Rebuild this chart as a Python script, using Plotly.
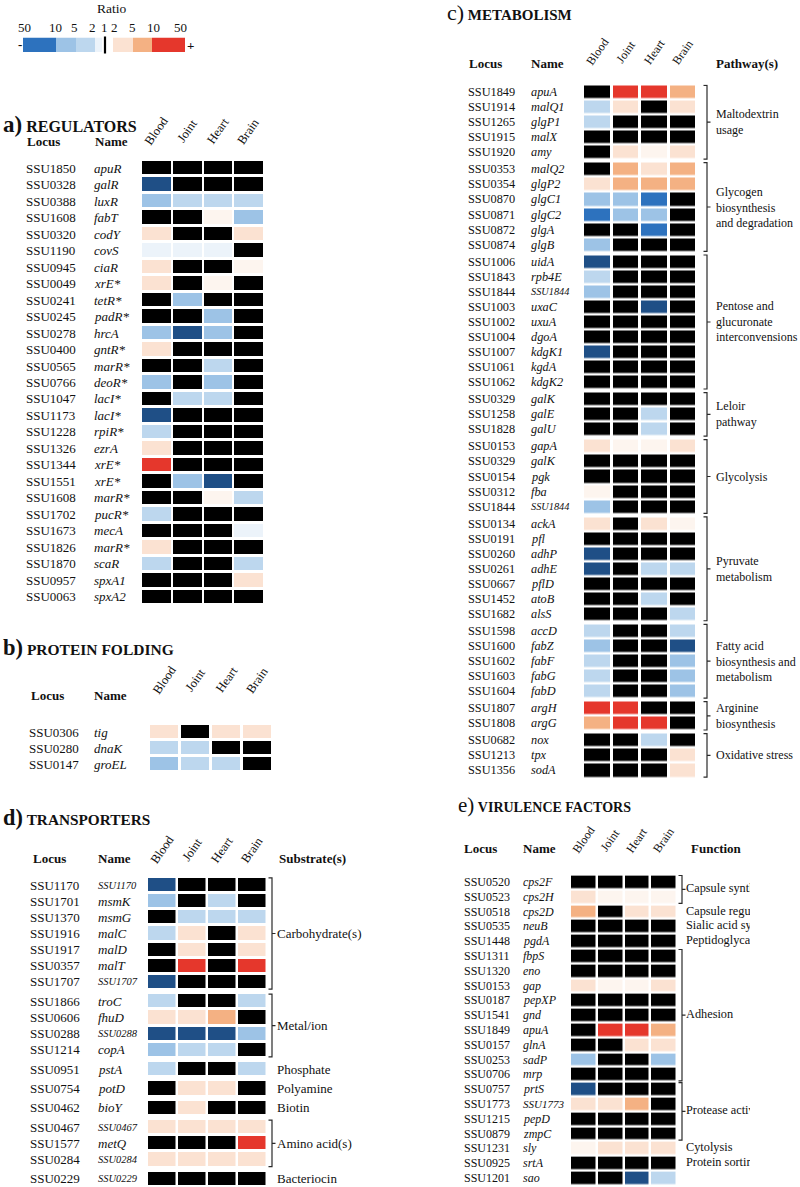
import plotly.graph_objects as go

W, H = 800, 1187
SERIF = "Liberation Serif, Times New Roman, serif"
COLUMNS = ["Blood", "Joint", "Heart", "Brain"]

# ratio classes: -5 strong down ... 0 not significant (black) ... 4 strong up
LEVELS = [-5, -4, -3, -2, -1, 0, 1, 2, 3, 4]
LEVEL_COLORS = ["#1f4f86", "#2d72be", "#9dc3e6", "#bdd7ee", "#ecf3fa",
                "#000000", "#fdf5ef", "#fbe2d2", "#f4b183", "#e5372c"]

LEGEND_LEVELS = [-4, -3, -2, -1, None, 2, 3, 4]
LEGEND_TICKS = ["50", "10", "5", "2", "1", "2", "5", "10", "50"]

# ---------------- a) REGULATORS ----------------
A_LOCUS = ["SSU1850", "SSU0328", "SSU0388", "SSU1608", "SSU0320", "SSU1190", "SSU0945", "SSU0049",
           "SSU0241", "SSU0245", "SSU0278", "SSU0400", "SSU0565", "SSU0766", "SSU1047", "SSU1173",
           "SSU1228", "SSU1326", "SSU1344", "SSU1551", "SSU1608", "SSU1702", "SSU1673", "SSU1826",
           "SSU1870", "SSU0957", "SSU0063"]
A_NAME = ["apuR", "galR", "luxR", "fabT", "codY", "covS", "ciaR", "xrE*", "tetR*", "padR*", "hrcA",
          "gntR*", "marR*", "deoR*", "lacI*", "lacI*", "rpiR*", "ezrA", "xrE*", "xrE*", "marR*",
          "pucR*", "mecA", "marR*", "scaR", "spxA1", "spxA2"]
A_VALUES = [
    [0, 0, 0, 0], [-5, 0, 0, 0], [-3, -2, -2, -2], [0, 0, 1, -3], [2, 0, 0, 2],
    [-1, -1, -1, 0], [2, 0, 0, 1], [2, 0, 1, 0], [0, -3, 0, 0], [0, 0, -3, 0],
    [-3, -5, -3, 0], [2, 0, 0, 0], [0, 0, -2, 0], [-3, 0, -3, 0], [0, -2, -2, 0],
    [-5, 0, 0, 0], [-2, 0, 0, 0], [2, 0, 0, 0], [4, 0, 0, 0], [0, -3, -5, 0],
    [0, 0, 1, -2], [-2, 0, 0, 0], [0, 0, 0, -1], [2, 0, 0, 0], [-2, 0, 0, -2],
    [0, 0, 0, 2], [0, 0, 0, 0]]

# ---------------- b) PROTEIN FOLDING ----------------
B_LOCUS = ["SSU0306", "SSU0280", "SSU0147"]
B_NAME = ["tig", "dnaK", "groEL"]
B_VALUES = [[2, 0, 2, 2], [-2, -2, 0, 0], [-3, -2, -2, 0]]

# ---------------- c) METABOLISM ----------------
C_LOCUS = ["SSU1849", "SSU1914", "SSU1265", "SSU1915", "SSU1920", "SSU0353", "SSU0354", "SSU0870",
           "SSU0871", "SSU0872", "SSU0874", "SSU1006", "SSU1843", "SSU1844", "SSU1003", "SSU1002",
           "SSU1004", "SSU1007", "SSU1061", "SSU1062", "SSU0329", "SSU1258", "SSU1828", "SSU0153",
           "SSU0329", "SSU0154", "SSU0312", "SSU1844", "SSU0134", "SSU0191", "SSU0260", "SSU0261",
           "SSU0667", "SSU1452", "SSU1682", "SSU1598", "SSU1600", "SSU1602", "SSU1603", "SSU1604",
           "SSU1807", "SSU1808", "SSU0682", "SSU1213", "SSU1356"]
C_NAME = ["apuA", "malQ1", "glgP1", "malX", "amy", "malQ2", "glgP2", "glgC1", "glgC2", "glgA", "glgB",
          "uidA", "rpb4E", "SSU1844", "uxaC", "uxuA", "dgoA", "kdgK1", "kgdA", "kdgK2", "galK", "galE",
          "galU", "gapA", "galK", "pgk", "fba", "SSU1844", "ackA", "pfl", "adhP", "adhE", "pflD", "atoB",
          "alsS", "accD", "fabZ", "fabF", "fabG", "fabD", "argH", "argG", "nox", "tpx", "sodA"]
C_VALUES = [
    [0, 4, 4, 3], [-2, 2, 0, 2], [-2, 0, 0, 0], [0, 0, 0, 0], [0, 2, 1, 2],
    [0, 3, 2, 3], [2, 3, 3, 3], [-3, -3, -4, 0], [-4, -3, -3, 0], [0, 0, -4, 0], [-3, 0, 0, 0],
    [-5, 0, 0, 0], [-2, 0, 0, 0], [-3, 0, 0, 0], [0, 0, -5, 0], [0, 0, 0, 0], [0, 0, 0, 0],
    [-5, 0, 0, 0], [0, 0, 0, 0], [0, 0, 0, 0],
    [0, 0, 0, 0], [0, 0, -2, 0], [0, 0, -2, 0],
    [2, 1, 1, 2], [0, 0, 0, 0], [0, 0, 0, 0], [1, 0, 0, 0], [-3, 0, 0, 0],
    [2, 0, 2, 1], [0, 0, 0, 0], [-5, 0, 0, 0], [-5, 0, -2, -2], [0, 0, 0, 0], [0, 0, -2, 0], [0, 0, 0, -2],
    [-2, 0, 0, -2], [-3, 0, 0, -5], [-2, 0, 0, -3], [-2, 0, 0, -3], [-2, 0, 0, -3],
    [4, 4, 0, 0], [3, 4, 4, 0],
    [0, 0, -2, 0], [0, 0, 0, 2], [0, 0, 0, 2]]
C_GROUP = [0, 0, 0, 0, 0, 1, 1, 1, 1, 1, 1, 2, 2, 2, 2, 2, 2, 2, 2, 2, 3, 3, 3, 4, 4, 4, 4, 4,
           5, 5, 5, 5, 5, 5, 5, 6, 6, 6, 6, 6, 7, 7, 8, 8, 8]
C_GROUP_LABELS = ["Maltodextrin<br>usage", "Glycogen<br>biosynthesis<br>and degradation",
                  "Pentose and<br>glucuronate<br>interconvensions", "Leloir<br>pathway", "Glycolysis",
                  "Pyruvate<br>metabolism", "Fatty acid<br>biosynthesis and<br>metabolism",
                  "Arginine<br>biosynthesis", "Oxidative stress"]

# ---------------- d) TRANSPORTERS ----------------
D_LOCUS = ["SSU1170", "SSU1701", "SSU1370", "SSU1916", "SSU1917", "SSU0357", "SSU1707", "SSU1866",
           "SSU0606", "SSU0288", "SSU1214", "SSU0951", "SSU0754", "SSU0462", "SSU0467", "SSU1577",
           "SSU0284", "SSU0229"]
D_NAME = ["SSU1170", "msmK", "msmG", "malC", "malD", "malT", "SSU1707", "troC", "fhuD", "SSU0288",
          "copA", "pstA", "potD", "bioY", "SSU0467", "metQ", "SSU0284", "SSU0229"]
D_VALUES = [
    [-5, 0, 0, 0], [-3, 0, -2, 0], [0, -2, -2, -2], [-2, 2, 0, 2], [0, 2, 0, 2], [0, 4, 0, 4],
    [-5, 0, 0, 0], [-2, 0, 0, -2], [2, 2, 3, 0], [-5, -5, -5, -3], [-3, -2, -2, 0],
    [-2, 0, 0, -2], [0, 2, 2, 0], [0, 2, 0, 0], [2, 2, 2, 2], [0, 0, 0, 4], [2, 2, 2, 2], [0, 0, 0, 0]]
D_GROUP = [0, 0, 0, 0, 0, 0, 0, 1, 1, 1, 1, 2, 3, 4, 5, 5, 5, 6]
D_GROUP_LABELS = ["Carbohydrate(s)", "Metal/ion", "Phosphate", "Polyamine", "Biotin",
                  "Amino acid(s)", "Bacteriocin"]

# ---------------- e) VIRULENCE FACTORS ----------------
E_LOCUS = ["SSU0520", "SSU0523", "SSU0518", "SSU0535", "SSU1448", "SSU1311", "SSU1320", "SSU0153",
           "SSU0187", "SSU1541", "SSU1849", "SSU0157", "SSU0253", "SSU0706", "SSU0757", "SSU1773",
           "SSU1215", "SSU0879", "SSU1231", "SSU0925", "SSU1201"]
E_NAME = ["cps2F", "cps2H", "cps2D", "neuB", "pgdA", "fbpS", "eno", "gap", "pepXP", "gnd", "apuA",
          "glnA", "sadP", "mrp", "prtS", "SSU1773", "pepD", "zmpC", "sly", "srtA", "sao"]
E_VALUES = [
    [0, 0, 0, 0], [2, 1, 1, 1], [3, 0, 2, 2], [0, 0, 0, 0], [0, 0, 0, 0], [0, 0, 0, 0],
    [0, 0, 0, 0], [2, 1, 1, 2], [0, 0, 0, 0], [0, 0, 0, 0], [0, 4, 4, 3], [0, 0, 2, 2],
    [-3, 0, 0, -3], [0, 0, 0, 0], [-5, 0, 0, 0], [2, 2, 3, 0], [0, 0, 0, 0], [0, 0, 0, 0],
    [1, 2, 2, 2], [0, 0, 0, 0], [0, 0, -5, -2]]
E_GROUP = [0, 0, 1, 2, 3, 4, 4, 4, 4, 4, 4, 4, 4, 4, 5, 5, 5, 5, 6, 7, 8]
E_GROUP_LABELS = ["Capsule synthesis", "Capsule regulation", "Sialic acid synthesis",
                  "Peptidoglycan deacetylase", "Adhesion", "Protease activity", "Cytolysis",
                  "Protein sorting", ""]

# ---------------- layout specs (pixel positions) ----------------
SPEC_A = dict(x0=141, x1=264, y0=160, y1=605, locus_x=25, name_x=93, size=13, small=10.5,
              hdr_y=141, hdr_locus_x=26, hdr_name_x=94, col_y=131, col_size=12.5,
              xgap=2, ygap=3, spacer=0,
              title=("a)", "REGULATORS", True), title_x=2, title_y=124, title_size=16)
SPEC_B = dict(x0=149, x1=273, y0=724, y1=772, locus_x=28, name_x=93, size=13, small=10.5,
              hdr_y=695, hdr_locus_x=30, hdr_name_x=93, col_y=680, col_size=12.5,
              xgap=3, ygap=3, spacer=0,
              title=("b)", "PROTEIN FOLDING", True), title_x=2, title_y=647, title_size=15.5)
SPEC_C = dict(x0=583, x1=697, y0=84.5, y1=778, locus_x=467, name_x=530, size=12.3, small=10.3,
              hdr_y=63, hdr_locus_x=468, hdr_name_x=530, col_y=52, col_size=12,
              hdr3="Pathway(s)", hdr3_x=715, bracket_x=707, label_x=715, label_size=12,
              xgap=3, ygap=2.5, spacer=0.12,
              title=("c)", "METABOLISM", False), title_x=446, title_y=12, title_size=15)
SPEC_D = dict(x0=147, x1=267, y0=877, y1=1187, locus_x=29, name_x=97, size=13, small=10.5,
              hdr_y=858, hdr_locus_x=32, hdr_name_x=97, col_y=850, col_size=12.5,
              hdr3="Substrate(s)", hdr3_x=278, bracket_x=272, label_x=276, label_size=13,
              xgap=2.5, ygap=3, spacer=0.2,
              title=("d)", "TRANSPORTERS", True), title_x=2, title_y=817, title_size=15.3)
SPEC_E = dict(x0=570, x1=677, y0=874.6, y1=1185.4, locus_x=463, name_x=522, size=12, small=11,
              hdr_y=848, hdr_locus_x=463, hdr_name_x=522, col_y=840, col_size=12,
              hdr3="Function", hdr3_x=690, bracket_x=682, label_x=686, label_clip=750, label_size=12.3,
              xgap=2.5, ygap=2.5, spacer=0,
              title=("e)", "VIRULENCE FACTORS", False), title_x=457, title_y=805, title_size=14)


def px(x):
    return x / W


def py(y):
    return 1 - y / H


n_lv = len(LEVEL_COLORS)
CS = []
for j, c in enumerate(LEVEL_COLORS):
    CS.append([j / n_lv, c])
    CS.append([(j + 1) / n_lv, c])
ZMIN, ZMAX = LEVELS[0] - 0.5, LEVELS[-1] + 0.5

traces, annotations, shapes = [], [], []
layout = {}


def ann(text, x, y, xref="paper", yref="paper", size=13, xanchor="left", yanchor="middle",
        angle=0, color="#111111"):
    annotations.append(dict(text=text, x=x, y=y, xref=xref, yref=yref, showarrow=False,
                            xanchor=xanchor, yanchor=yanchor, textangle=angle, align="left",
                            font=dict(family=SERIF, size=size, color=color), borderpad=0))


def build_rows(values, groups, spacer):
    z, edges, centers = [], [0.0], []
    for i, row in enumerate(values):
        if groups is not None and spacer > 0 and i > 0 and groups[i] != groups[i - 1]:
            z.append([None] * len(COLUMNS))
            edges.append(edges[-1] + spacer)
        top = edges[-1]
        z.append(list(row))
        edges.append(top + 1.0)
        centers.append(top + 0.5)
    return z, edges, centers


def add_panel(k, spec, locus, names, values, groups=None, group_labels=None):
    s = "" if k == 1 else str(k)
    z, edges, centers = build_rows(values, groups, spec["spacer"])
    traces.append(go.Heatmap(z=z, x=list(range(len(COLUMNS))), y=edges, colorscale=CS,
                             zmin=ZMIN, zmax=ZMAX, showscale=False, xgap=spec["xgap"],
                             ygap=spec["ygap"], hoverinfo="skip", xaxis="x" + s, yaxis="y" + s))
    layout["xaxis" + s] = dict(domain=[px(spec["x0"]), px(spec["x1"])], range=[-0.5, len(COLUMNS) - 0.5],
                               visible=False, anchor="y" + s, fixedrange=True)
    layout["yaxis" + s] = dict(domain=[py(spec["y1"]), py(spec["y0"])], range=[edges[-1], edges[0]],
                               visible=False, anchor="x" + s, fixedrange=True)
    # title
    letter, word, bold_letter = spec["title"]
    big = f"<span style='font-size:{spec['title_size'] + 7}px'>{letter}</span>"
    if bold_letter:
        big = f"<b>{big}</b>"
    ann(f"{big} <b>{word}</b>", px(spec["title_x"]), py(spec["title_y"]), size=spec["title_size"])
    # headers
    ann("<b>Locus</b>", px(spec["hdr_locus_x"]), py(spec["hdr_y"]), size=13)
    ann("<b>Name</b>", px(spec["hdr_name_x"]), py(spec["hdr_y"]), size=13)
    if "hdr3" in spec:
        ann(f"<b>{spec['hdr3']}</b>", px(spec["hdr3_x"]), py(spec["hdr_y"]), size=13)
    for j, c in enumerate(COLUMNS):
        ann(c, j, py(spec["col_y"]), xref="x" + s, size=spec["col_size"], xanchor="center",
            angle=-55)
    # row labels
    for i, (lc, nm) in enumerate(zip(locus, names)):
        ann(lc, px(spec["locus_x"]), centers[i], yref="y" + s, size=spec["size"])
        nsize = spec["small"] if nm.startswith("SSU") else spec["size"]
        ann(f"<i>{nm}</i>", px(spec["name_x"]), centers[i], yref="y" + s, size=nsize)
    # brackets & group labels
    if groups is not None:
        order = []
        for g in groups:
            if g not in order:
                order.append(g)
        bx = px(spec["bracket_x"])
        t = 3.5 / W
        clip_labels = []
        for g in order:
            rows = [i for i, gg in enumerate(groups) if gg == g]
            top = centers[rows[0]] - 0.5 + 0.06
            bot = centers[rows[-1]] + 0.5 - 0.06
            mid = (top + bot) / 2
            if len(rows) > 1:
                path = (f"M {bx - t},{top} L {bx},{top} L {bx},{bot} L {bx - t},{bot} "
                        f"M {bx},{mid} L {bx + t},{mid}")
                shapes.append(dict(type="path", path=path, xref="paper", yref="y" + s,
                                   line=dict(color="#2a2a2a", width=1.2)))
            label = group_labels[g]
            if "label_clip" in spec:
                clip_labels.append((mid, label))
            else:
                ann(label, px(spec["label_x"]), mid, yref="y" + s, size=spec["label_size"])
        if clip_labels:
            layout["xaxis7"] = dict(domain=[px(spec["label_x"]), px(spec["label_clip"])],
                                    range=[0, 1], visible=False, anchor="y" + s, fixedrange=True)
            traces.append(go.Scatter(x=[0] * len(clip_labels), y=[m for m, _ in clip_labels],
                                     text=[lb for _, lb in clip_labels], mode="text",
                                     textposition="middle right", cliponaxis=True,
                                     textfont=dict(family=SERIF, size=spec["label_size"], color="#111111"),
                                     hoverinfo="skip", showlegend=False, xaxis="x7", yaxis="y" + s))


add_panel(1, SPEC_A, A_LOCUS, A_NAME, A_VALUES)
add_panel(2, SPEC_B, B_LOCUS, B_NAME, B_VALUES)
add_panel(3, SPEC_C, C_LOCUS, C_NAME, C_VALUES, C_GROUP, C_GROUP_LABELS)
add_panel(4, SPEC_D, D_LOCUS, D_NAME, D_VALUES, D_GROUP, D_GROUP_LABELS)
add_panel(5, SPEC_E, E_LOCUS, E_NAME, E_VALUES, E_GROUP, E_GROUP_LABELS)

# ---------------- ratio legend ----------------
LEGEND_EDGES = [23, 56, 76, 94.5, 102, 113, 133, 152, 185]
LEGEND_TICK_X = [24, 55.5, 74.5, 92, 104, 114.5, 132, 153, 180]
traces.append(go.Heatmap(z=[LEGEND_LEVELS], x=LEGEND_EDGES, y=[0], colorscale=CS, zmin=ZMIN, zmax=ZMAX,
                         showscale=False, hoverinfo="skip", xaxis="x6", yaxis="y6"))
layout["xaxis6"] = dict(domain=[0, 1], range=[0, W], visible=False, anchor="y6", fixedrange=True)
layout["yaxis6"] = dict(domain=[py(52), py(37.5)], range=[-0.5, 0.5], visible=False, anchor="x6",
                        fixedrange=True)
shapes.append(dict(type="line", xref="paper", yref="paper", x0=px(105), x1=px(105), y0=py(36.5),
                   y1=py(53.5), line=dict(color="#000000", width=2.2)))
ann("Ratio", px(111), py(8), size=13.5, xanchor="center")
for tx, tl in zip(LEGEND_TICK_X, LEGEND_TICKS):
    ann(tl, px(tx), py(27), size=13, xanchor="center")
ann("<b>-</b>", px(20), py(44.5), size=13, xanchor="center")
ann("<b>+</b>", px(190), py(45.5), size=13, xanchor="center")

layout.update(dict(width=W, height=H, margin=dict(l=0, r=0, t=0, b=0), paper_bgcolor="white",
                   plot_bgcolor="rgba(0,0,0,0)", showlegend=False, annotations=annotations,
                   shapes=shapes, font=dict(family=SERIF, color="#111111")))

fig = go.Figure(data=traces, layout=layout)
fig.write_html("out.html", config={"displayModeBar": False},
               post_script="document.body.style.margin='0';document.body.style.padding='0';")
